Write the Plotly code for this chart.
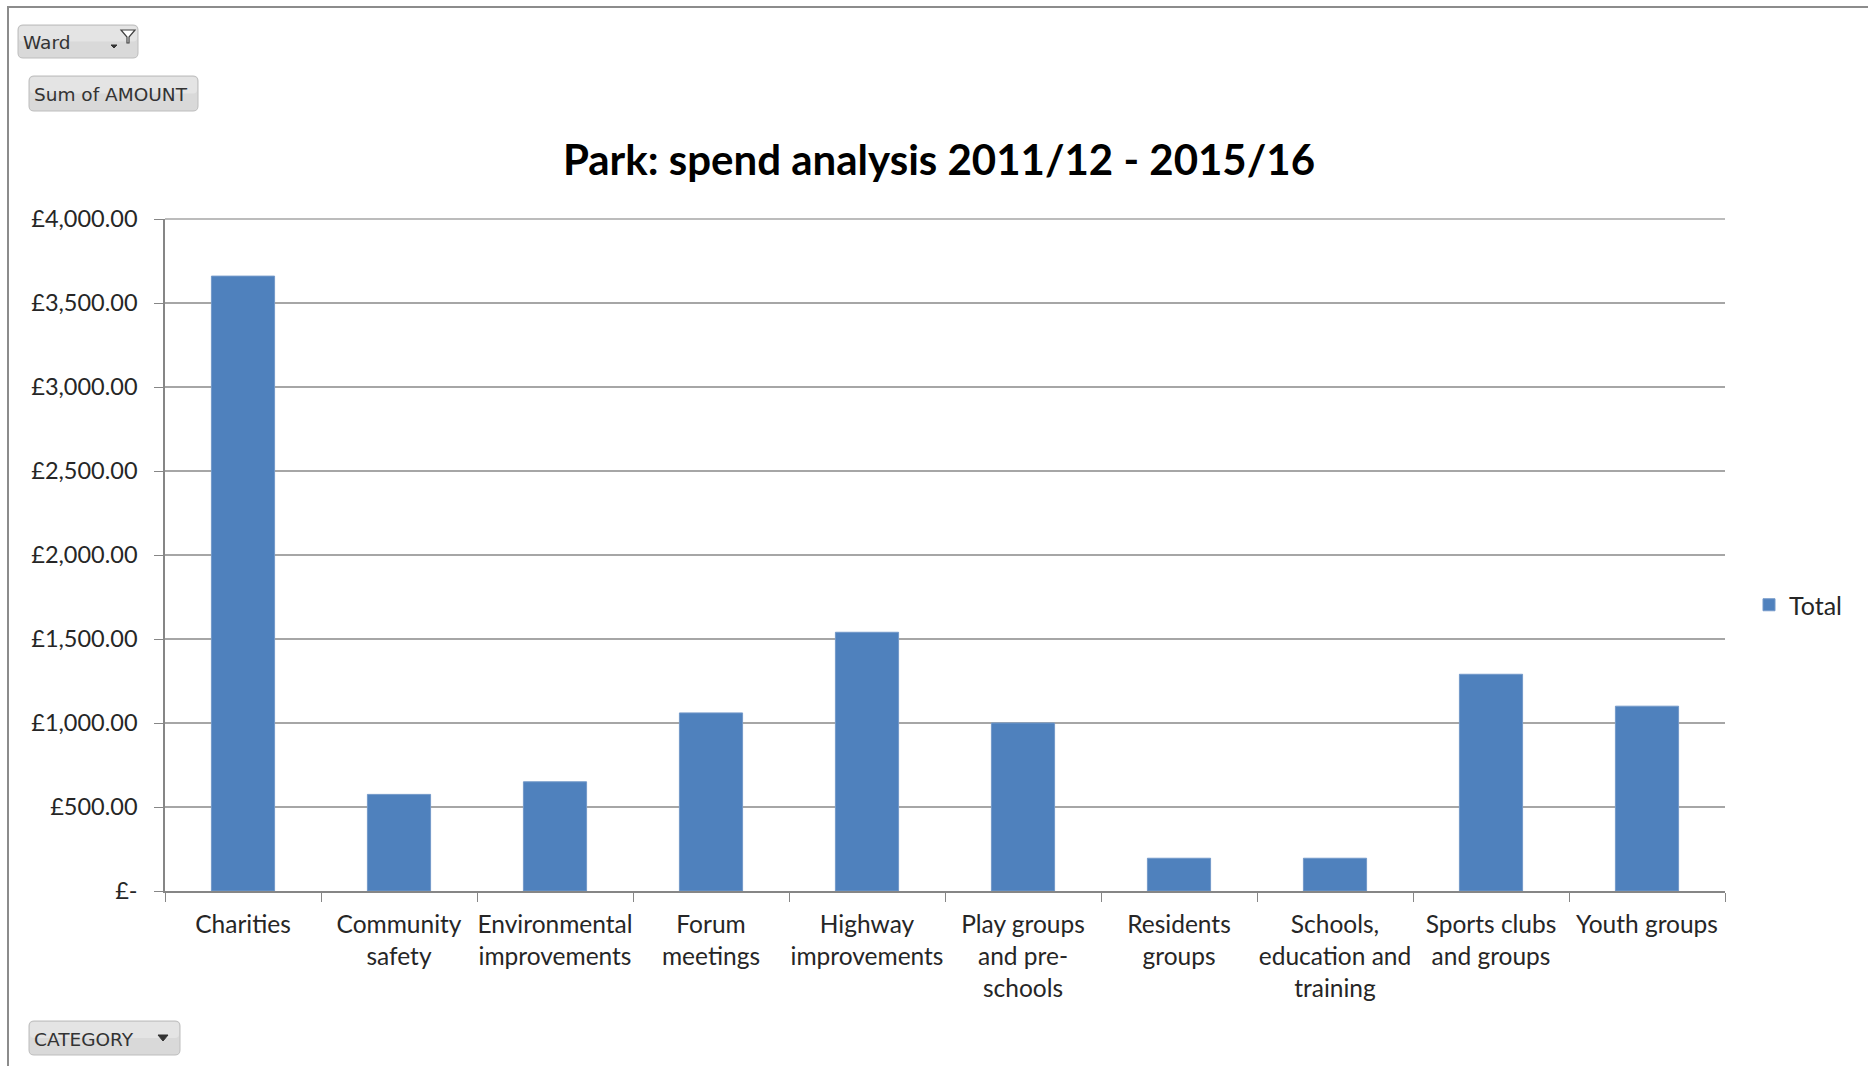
import plotly.graph_objects as go

# Spend per category (GBP), Park ward, 2011/12 - 2015/16
categories = [
    "Charities", "Community safety", "Environmental improvements",
    "Forum meetings", "Highway improvements", "Play groups and pre-schools",
    "Residents groups", "Schools, education and training",
    "Sports clubs and groups", "Youth groups",
]
category_labels = [
    "Charities", "Community<br>safety", "Environmental<br>improvements",
    "Forum<br>meetings", "Highway<br>improvements", "Play groups<br>and pre-<br>schools",
    "Residents<br>groups", "Schools,<br>education and<br>training",
    "Sports clubs<br>and groups", "Youth groups",
]
totals = [3660, 575, 650, 1060, 1540, 1000, 195, 195, 1290, 1100]

y_ticks = [0, 500, 1000, 1500, 2000, 2500, 3000, 3500, 4000]
y_tick_labels = ["£-", "£500.00", "£1,000.00", "£1,500.00", "£2,000.00",
                 "£2,500.00", "£3,000.00", "£3,500.00", "£4,000.00"]

W_PX, H_PX = 1868, 1066
PLOT_L, PLOT_R, PLOT_T, PLOT_B = 165, 1725, 219, 891
PW, PH = PLOT_R - PLOT_L, PLOT_B - PLOT_T


def xp(px):
    return (px - PLOT_L) / PW


def yp(py):
    return (PLOT_B - py) / PH


def rounded_rect(x0, y0, x1, y1, r=4):
    # rounded rectangle path in paper units, from pixel corners
    pts = [
        f"M{xp(x0 + r)},{yp(y0)}",
        f"L{xp(x1 - r)},{yp(y0)}",
        f"Q{xp(x1)},{yp(y0)} {xp(x1)},{yp(y0 + r)}",
        f"L{xp(x1)},{yp(y1 - r)}",
        f"Q{xp(x1)},{yp(y1)} {xp(x1 - r)},{yp(y1)}",
        f"L{xp(x0 + r)},{yp(y1)}",
        f"Q{xp(x0)},{yp(y1)} {xp(x0)},{yp(y1 - r)}",
        f"L{xp(x0)},{yp(y0 + r)}",
        f"Q{xp(x0)},{yp(y0)} {xp(x0 + r)},{yp(y0)}",
        "Z",
    ]
    return " ".join(pts)


def poly(points):
    return "M" + " L".join(f"{xp(a)},{yp(b)}" for a, b in points) + " Z"


BLUE = "#4F81BD"
TEXT = "#262626"
FONT = "Lato, Open Sans, sans-serif"

fig = go.Figure()
fig.add_trace(go.Bar(
    x=categories, y=totals, name="Total",
    marker=dict(color=BLUE, line=dict(color="#7399c9", width=1)),
))

shapes = []
# outer chart frame (left and top edges)
shapes.append(dict(type="path", xref="paper", yref="paper",
                   path=f"M{xp(8)},{yp(1066)} L{xp(8)},{yp(7)} L{xp(1868)},{yp(7)}",
                   line=dict(color="#8c8c8c", width=2)))

# top gridline at the axis maximum
shapes.append(dict(type="line", xref="paper", yref="paper", x0=0, x1=1, y0=1, y1=1,
                   line=dict(color="#a6a6a6", width=1.5), layer="below"))

# pivot field buttons
buttons = [
    (18, 25, 138, 58, "Ward"),
    (29, 76, 198, 111, "Sum of AMOUNT"),
    (29, 1021, 180, 1055, "CATEGORY"),
]
annotations = []
for x0, y0, x1, y1, label in buttons:
    shapes.append(dict(type="path", xref="paper", yref="paper",
                       path=rounded_rect(x0, y0, x1, y1, 5),
                       fillcolor="#d9d9d9", line=dict(color="#bdbdbd", width=1)))
    shapes.append(dict(type="path", xref="paper", yref="paper",
                       path=rounded_rect(x0 + 1, y0 + 1, x1 - 1, (y0 + y1) / 2, 4),
                       fillcolor="#e4e4e4", line=dict(width=0)))
    annotations.append(dict(text=label, xref="paper", yref="paper",
                            x=xp(x0 + 3), y=yp((y0 + y1) / 2 + 1),
                            xanchor="left", yanchor="middle", showarrow=False,
                            font=dict(family="DejaVu Sans", size=18.5, color="#333333")))

# filter funnel + small arrow on the Ward button
shapes.append(dict(type="path", xref="paper", yref="paper",
                   path=poly([(121, 30), (135, 30), (129, 37), (129, 43), (127, 43), (127, 37)]),
                   fillcolor="#ffffff", line=dict(color="#404040", width=1.2)))
shapes.append(dict(type="path", xref="paper", yref="paper",
                   path=poly([(111, 45), (117, 45), (114, 48)]),
                   fillcolor="#333333", line=dict(color="#333333", width=1)))
# dropdown arrow on the CATEGORY button
shapes.append(dict(type="path", xref="paper", yref="paper",
                   path=poly([(158, 1035), (168, 1035), (163, 1041)]),
                   fillcolor="#333333", line=dict(color="#333333", width=1)))

fig.update_layout(
    width=W_PX, height=H_PX,
    margin=dict(l=PLOT_L, r=W_PX - PLOT_R, t=PLOT_T, b=H_PX - PLOT_B, pad=0),
    paper_bgcolor="white", plot_bgcolor="white",
    bargap=0.595,
    showlegend=True,
    title=dict(text="<b>Park: spend analysis 2011/12 - 2015/16</b>",
               x=939 / W_PX, xanchor="center", xref="container",
               y=1 - 160 / H_PX, yanchor="middle", yref="container",
               font=dict(family=FONT, size=42, color="#000000")),
    legend=dict(x=xp(1749), y=yp(605), xanchor="left", yanchor="middle",
                font=dict(family=FONT, size=25, color=TEXT),
                bgcolor="rgba(0,0,0,0)", borderwidth=0),
    xaxis=dict(
        tickvals=categories, ticktext=category_labels,
        tickson="boundaries", ticks="outside", ticklen=9, tickcolor="#868686",
        showline=True, linecolor="#868686", linewidth=1.5,
        showgrid=False, tickangle=0, ticklabelstandoff=11,
        tickfont=dict(family=FONT, size=24.5, color=TEXT),
    ),
    yaxis=dict(
        range=[0, 4000], tickvals=y_ticks, ticktext=y_tick_labels,
        ticks="outside", ticklen=9, tickcolor="#868686",
        showline=True, linecolor="#868686", linewidth=1.5,
        showgrid=True, gridcolor="#a6a6a6", gridwidth=1.5,
        zeroline=False, ticklabelstandoff=12,
        tickfont=dict(family=FONT, size=23.5, color=TEXT),
    ),
    shapes=shapes,
    annotations=annotations,
)

fig.write_html("out.html")
